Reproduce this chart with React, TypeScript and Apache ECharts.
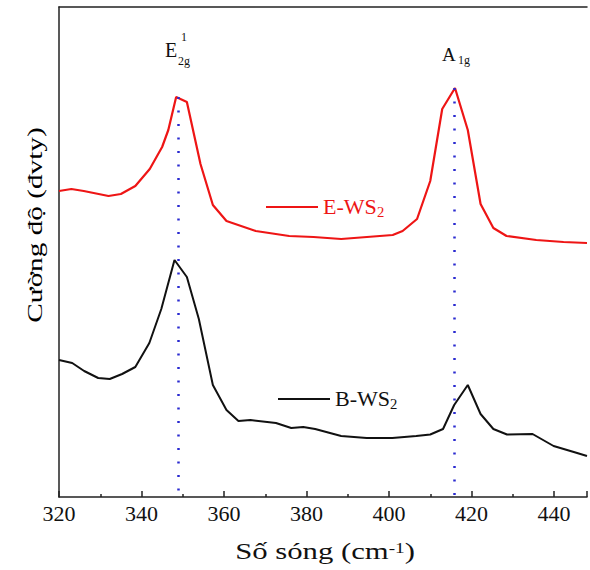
import React, { useEffect, useRef } from "react";
import * as echarts from "echarts";

// Raman spectra (wavenumber in cm-1, intensity in arbitrary units)
const waveNumberE = [320, 323, 326, 332, 335, 338.5, 342, 345, 346.5, 348.4, 351, 354.3, 357.3, 360.6, 367.7, 375.8, 381.7, 388.4, 400.9, 403.3, 406.8, 410, 412.9, 416, 419.1, 422.2, 425.3, 428.5, 435.7, 442.3, 448];
const intensityE = [306, 308, 306, 301, 303, 311, 328, 350, 367, 400, 395, 333, 292, 276, 266, 261, 260, 258, 262, 266, 278, 316, 388, 409, 367, 293, 269, 261, 257, 255, 254];

const waveNumberB = [320, 323.2, 326.1, 329.5, 332.3, 335.3, 338.5, 341.9, 344.8, 348, 351, 353.9, 357.3, 360.6, 363.5, 366.4, 372.6, 376.3, 379.2, 382.1, 388.4, 394.6, 400.8, 406.6, 410, 413.1, 415.8, 419.1, 422.2, 425.3, 428.6, 434.8, 439.9, 444.8, 448];
const intensityB = [137, 134, 126, 119, 118, 123, 130, 154, 188, 237, 220, 178, 112, 87, 76, 77, 74, 69, 70, 68, 61, 59, 59, 61, 62.5, 68, 92, 112, 83, 68, 62.5, 63, 51, 45, 41];

const xTickLabels = [320, 340, 360, 380, 400, 420, 440];
const peakPositions = [349, 415.7];
const peakTops = [400, 409];
const seriesNames = ["E-WS2", "B-WS2"];
const seriesColors = ["#ee1515", "#111111"];

export default function App() {
  const ref = useRef<HTMLDivElement>(null);

  useEffect(() => {
    const chart = echarts.init(ref.current!, null, { renderer: "svg" });
    const serif = "Liberation Serif, Times New Roman, serif";

    const dataE = waveNumberE.map((x, i) => [x, intensityE[i]]);
    const dataB = waveNumberB.map((x, i) => [x, intensityB[i]]);

    const markLines = peakPositions.map((x, i) => [
      { coord: [x, peakTops[i]] },
      { coord: [x, 0] },
    ]);

    const txt = (text: string, x: number, y: number, size: number, color: string, align = "left", extra: any = {}) => ({
      type: "text",
      x,
      y,
      silent: true,
      ...extra,
      style: {
        text,
        fontSize: size,
        fontFamily: serif,
        fill: color,
        align,
        textAlign: align,
        verticalAlign: "middle",
        textVerticalAlign: "middle",
      },
    });

    const richTxt = (text: string, x: number, y: number, size: number, subSize: number, subPad: number[], color: string, align = "left", extra: any = {}) => ({
      type: "text",
      x,
      y,
      silent: true,
      ...extra,
      style: {
        text,
        fill: color,
        align,
        textAlign: align,
        verticalAlign: "middle",
        textVerticalAlign: "middle",
        rich: {
          a: { fontSize: size, fontFamily: serif, fill: color, color, verticalAlign: "middle" },
          s: { fontSize: subSize, fontFamily: serif, fill: color, color, verticalAlign: "middle", padding: subPad },
        },
      },
    });

    const option: any = {
      animation: false,
      backgroundColor: "#ffffff",
      grid: { left: 59, right: 0, top: 7, bottom: 73, containLabel: false },
      xAxis: [
        {
          type: "value",
          min: 320,
          max: 448,
          interval: 20,
          axisLine: { show: true, onZero: false, lineStyle: { color: "#222", width: 1.5 } },
          axisTick: { show: true, inside: true, length: 6, lineStyle: { color: "#222", width: 1.5 } },
          minorTick: { show: true, splitNumber: 2, length: 3, lineStyle: { color: "#222", width: 1.5 } },
          splitLine: { show: false },
          axisLabel: {
            show: true,
            margin: 5,
            fontSize: 22,
            fontFamily: serif,
            color: "#111",
            formatter: (v: number) => (xTickLabels.indexOf(v) >= 0 ? String(v) : ""),
          },
        },
        {
          type: "value",
          position: "top",
          min: 320,
          max: 448,
          interval: 20,
          axisLine: { show: true, onZero: false, lineStyle: { color: "#222", width: 1.5 } },
          axisTick: { show: false },
          axisLabel: { show: false },
          splitLine: { show: false },
        },
      ],
      yAxis: {
        type: "value",
        min: 0,
        max: 490,
        axisLine: { show: true, onZero: false, lineStyle: { color: "#222", width: 1.5 } },
        axisTick: { show: false },
        axisLabel: { show: false },
        splitLine: { show: false },
      },
      series: [
        {
          name: seriesNames[0],
          type: "line",
          data: dataE,
          symbol: "none",
          showSymbol: false,
          lineStyle: { color: seriesColors[0], width: 2.2 },
          itemStyle: { color: seriesColors[0] },
          markLine: {
            silent: true,
            symbol: ["none", "none"],
            label: { show: false },
            lineStyle: { color: "#2a2ad0", width: 2.5, type: [2, 11.5] },
            data: markLines,
          },
        },
        {
          name: seriesNames[1],
          type: "line",
          data: dataB,
          symbol: "none",
          showSymbol: false,
          lineStyle: { color: seriesColors[1], width: 2 },
          itemStyle: { color: seriesColors[1] },
        },
      ],
      graphic: [
        // axis titles
        richTxt("{a|Số sóng (cm}{s|-1}{a|)}", 325, 551, 24, 15, [0, 0, 5, 0], "#111", "center", { scaleX: 1.28 }),
        txt("Cường độ (đvty)", 35, 225, 22, "#000", "center", { rotation: Math.PI / 2, scaleX: 1.33 }),
        // peak labels
        txt("E", 165, 50, 20, "#111"),
        txt("1", 181, 37, 12, "#111"),
        txt("2g", 178, 61, 12, "#111"),
        txt("A", 442, 54, 19, "#111"),
        txt("1g", 458, 60, 12, "#111"),
        // legend
        {
          type: "line",
          silent: true,
          shape: { x1: 266, y1: 207, x2: 318, y2: 207 },
          style: { stroke: seriesColors[0], lineWidth: 2.2 },
        },
        richTxt("{a|E-WS}{s|2}", 323, 207, 21, 14, [10, 0, 0, 0], seriesColors[0], "left", { scaleX: 1.05 }),
        {
          type: "line",
          silent: true,
          shape: { x1: 278, y1: 399, x2: 330, y2: 399 },
          style: { stroke: seriesColors[1], lineWidth: 2 },
        },
        richTxt("{a|B-WS}{s|2}", 335, 399, 21, 14, [10, 0, 0, 0], seriesColors[1], "left", { scaleX: 1.05 }),
      ],
    };

    chart.setOption(option);
    return () => chart.dispose();
  }, []);

  return (
    <div
      ref={ref}
      style={{ position: "fixed", left: 0, top: 0, width: 590, height: 570, background: "#fff" }}
    />
  );
}
